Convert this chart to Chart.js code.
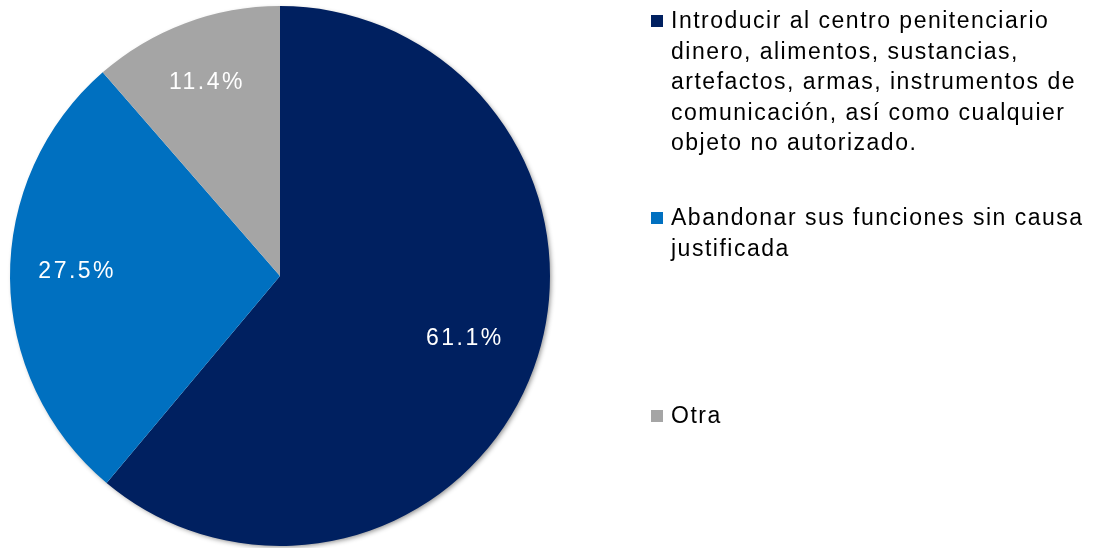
<!DOCTYPE html>
<html>
<head>
<meta charset="utf-8">
<script src="https://cdn.jsdelivr.net/npm/chart.js"></script>
<style>
  body { margin: 0; background: #fff; }
  #wrap { position: relative; width: 1103px; height: 548px; }
  #legend { position: absolute; left: 0; top: 0; font-family: "Liberation Sans", Arial, sans-serif; font-size: 23px; letter-spacing: 1.5px; line-height: 30.5px; color: #000; }
  .item { position: absolute; left: 651px; width: 450px; }
  .box { position: absolute; left: 0; top: 10px; width: 12px; height: 12px; }
  .txt { margin-left: 20px; width: 428px; }
</style>
</head>
<body>
<div id="wrap">
  <canvas id="myChart" width="1103" height="548"></canvas>
  <div id="legend"></div>
</div>
<script>
// data for the pie
var labels = ['Introducir al centro penitenciario dinero, alimentos, sustancias, artefactos, armas, instrumentos de comunicación, así como cualquier objeto no autorizado.',
  'Abandonar sus funciones sin causa justificada',
  'Otra']
var values = [61.1, 27.5, 11.4]
var colors = ['#002060', '#0070C0', '#A5A5A5']
var legend_tops = [5, 202, 400]

// legend in html, so the long labels wrap
var legend = document.getElementById('legend')
for (let i = 0; i < labels.length; i++) {
  var div = document.createElement('div')
  div.className = 'item'
  div.style.top = legend_tops[i] + 'px'
  div.innerHTML = '<span class="box" style="background:' + colors[i] + '"></span><div class="txt">' + labels[i] + '</div>'
  legend.appendChild(div)
}

// soft shadow behind the pie
const shadow = {
  id: 'shadow',
  beforeDatasetsDraw(chart) {
    var arc = chart.getDatasetMeta(0).data[0]
    var ctx = chart.ctx
    ctx.save()
    ctx.shadowColor = 'rgba(0,0,0,0.45)'
    ctx.shadowBlur = 5
    ctx.shadowOffsetX = 2
    ctx.shadowOffsetY = 2
    ctx.fillStyle = '#fff'
    ctx.beginPath()
    ctx.arc(arc.x, arc.y, arc.outerRadius - 1, 0, Math.PI * 2)
    ctx.fill()
    ctx.restore()
  }
}

// percent labels inside slices
const sliceLabels = {
  id: 'sliceLabels',
  afterDatasetsDraw(chart) {
    var ctx = chart.ctx
    ctx.save()
    ctx.fillStyle = '#fff'
    ctx.font = '23px "Liberation Sans", Arial, sans-serif'
    ctx.letterSpacing = '2.5px'
    ctx.textAlign = 'center'
    ctx.textBaseline = 'middle'
    chart.getDatasetMeta(0).data.forEach(function (arc, i) {
      var mid = (arc.startAngle + arc.endAngle) / 2
      var r = arc.outerRadius * 0.74
      ctx.fillText(values[i].toFixed(1) + '%', arc.x + Math.cos(mid) * r - 3, arc.y + Math.sin(mid) * r - 6)
    })
    ctx.restore()
  }
}

const ctx = document.getElementById('myChart');

new Chart(ctx, {
  type: 'pie',
  data: {
    labels: labels,
    datasets: [{
      data: values,
      backgroundColor: colors,
      borderWidth: 0
    }]
  },
  options: {
    responsive: false,
    animation: false,
    layout: { padding: { left: 10, right: 553, top: 6, bottom: 2 } },
    plugins: {
      legend: { display: false },
      tooltip: { enabled: false }
    }
  },
  plugins: [shadow, sliceLabels]
});
</script>
</body>
</html>
